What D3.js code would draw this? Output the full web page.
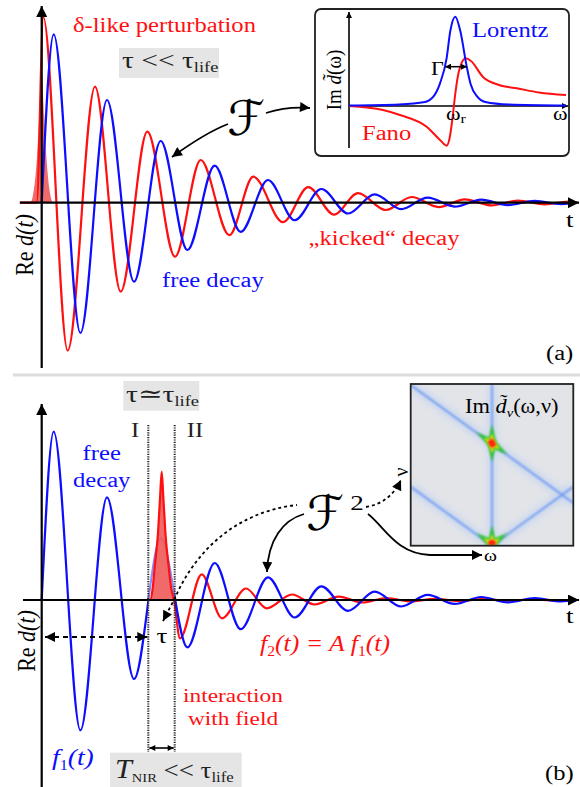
<!DOCTYPE html>
<html><head><meta charset="utf-8">
<script src="https://cdn.jsdelivr.net/npm/d3@7"></script>
<style>body{margin:0;background:#fff}svg{display:block}
text{font-family:"Liberation Serif","Tinos","Times New Roman","Nimbus Roman","DejaVu Serif",serif}</style>
</head><body>
<script>
// ---------------- DATA ----------------
// Panel (a): free decay (blue) extrema, t measured from the y-axis, value above the t-axis
const freeT = [0, 12, 38.7, 65.3, 92.3, 119, 145.7, 173, 199, 226.3, 253, 279.7, 306.3, 333, 359.5, 386, 413, 439.5, 466, 493, 519.5, 535];
const freeV = [0, 168.4, -130.3, 102.7, -79, 61.7, -47.3, 37, -29.2, 22.7, -17.5, 13.7, -10.8, 8.4, -6.5, 5.1, -3.9, 3.0, -2.4, 1.8, -1.4, 0];
// Panel (a): "kicked" decay (red)
const kickT = [-22, -5, 1.6, 26, 53.3, 79, 105.6, 133.3, 159, 187.6, 211.6, 241.3, 266.6, 292.3, 316.3, 344, 370, 397, 423, 450, 476, 503, 529, 535];
const kickV = [0, 0, 185.7, -148, 116, -89, 71, -54, 42.7, -32.5, 26, -19.5, 15.5, -12, 9.5, -7.3, 5.7, -4.4, 3.4, -2.7, 2.1, -1.6, 1.2, 0];
// Panel (a): delta-like pulse
const pulseAT = [-11, -9, -4.7, -2.5, 0, 2.5, 4.7, 9, 11];
const pulseAV = [0, 6, 46, 86, 128, 86, 46, 6, 0];
// Inset (a): Lorentz and Fano line shapes (omega measured from the inset axis)
const lorW = [0, 50, 76, 84.3, 91, 97.6, 101.3, 106.3, 111.3, 117.6, 121.6, 128.3, 136.3, 160, 217];
const lorV = [0.5, 1.5, 4, 9.3, 22.7, 47.7, 75, 89.3, 75, 40, 22, 9.3, 4, 1.5, 0.5];
const fanoW = [0, 34, 51, 78, 91, 97.7, 101, 104, 106, 110, 116.7, 122, 134, 150, 168, 190, 217];
const fanoV = [0, -4, -9, -21, -34, -39.7, -30, -8, 10, 35, 47.7, 45, 29, 21, 17.7, 13.5, 11];
// Panel (b): interaction window (between the two dotted lines)
const windowT = [106.6, 133];
// Panel (b): field pulse and the decay after it (red)
const pulseBT = [106.6, 108.3, 111, 113, 116.3, 118.5, 120, 121.5, 123.7, 127, 129.5, 132.3];
const pulseBV = [0, 0, 12, 33, 67, 105, 128.3, 105, 67, 33, 12, 0];
const tailBT = [138.3, 160, 180.3, 204.3, 225, 250.3, 273, 297, 321, 345, 369, 393, 417, 441, 465, 489, 513, 535];
const tailBV = [-38.3, 25.7, -18.3, 11.5, -8.3, 5.5, -4.5, 3.3, -2.5, 2, -1.5, 1.2, -1, 0.8, -0.6, 0.5, -0.3, 0];
// Inset (b): 2D spectrum ridges (omega, nu in 0..1) and peaks
const ridges = [[[0, 0.994], [1, 0.264]], [[0.5, 0], [0.5, 1]], [[0, 0.365], [0.5, 0]], [[0.5, 0], [1, 0.365]]];
const peakW = [0.5, 0.5];
const peakNu = [0.633, 0.01];

// ---------------- SETUP ----------------
const SERIF = '"Liberation Serif","Tinos","Times New Roman","Nimbus Roman","DejaVu Serif",serif';
const SX = 1.23;
const BLUE = '#0d0dff', RED = '#ff1010';
const svg = d3.select('body').append('svg').attr('width', 580).attr('height', 787);
const defs = svg.append('defs');
function marker(id, w, h, color = '#000') {
  defs.append('marker').attr('id', id).attr('viewBox', '0 0 10 10').attr('refX', 10).attr('refY', 5)
    .attr('markerWidth', w).attr('markerHeight', h).attr('markerUnits', 'userSpaceOnUse')
    .attr('orient', 'auto-start-reverse')
    .append('path').attr('d', 'M0,0L10,5L0,10Z').attr('fill', color);
}
marker('axArrow', 13, 11);
marker('arr', 12, 10);
marker('arrS', 7, 6);
const blur = (id, s) => defs.append('filter').attr('id', id).attr('filterUnits', 'userSpaceOnUse')
  .attr('x', 0).attr('y', 0).attr('width', 580).attr('height', 787)
  .append('feGaussianBlur').attr('stdDeviation', s);
blur('b1', 0.8); blur('b3', 3.5); blur('b2', 1.4);

function label(x, y, parts, o = {}) {
  const g = svg.append('g').attr('transform', `translate(${x},${y}) scale(${o.sx ?? SX},1)` + (o.rot ? ` rotate(${o.rot})` : ''));
  const t = g.append('text').style('font-family', o.font || SERIF).attr('font-size', o.size || 20)
    .attr('fill', o.color || '#000').attr('text-anchor', o.anchor || 'start');
  if (typeof parts === 'string') parts = [{ t: parts }];
  parts.forEach(p => {
    const s = t.append('tspan').text(p.t);
    if (p.i) s.attr('font-style', 'italic');
    if (p.size) s.attr('font-size', p.size);
    if (p.dy) s.attr('dy', p.dy);
    if (p.dx) s.attr('dx', p.dx);
    if (p.fill) s.attr('fill', p.fill);
    if (p.font) s.style('font-family', p.font);
  });
  return t;
}
function pathArrow(d, o = {}) {
  const p = svg.append('path').attr('d', d).attr('fill', 'none').attr('stroke', '#000')
    .attr('stroke-width', o.w || 1.8);
  if (o.dash) p.attr('stroke-dasharray', o.dash);
  if (o.end) p.attr('marker-end', `url(#${o.end})`);
  if (o.start) p.attr('marker-start', `url(#${o.start})`);
  return p;
}
const SCRIPT = '"DejaVu Serif","DejaVu Sans",serif';

// ---------------- PANEL (a) ----------------
const xA = d3.scaleLinear().domain([0, 535]).range([41.7, 576.7]);
const yA = d3.scaleLinear().domain([-160, 200]).range([362.7, 2.7]);
const lineA = d3.line().x(d => xA(d[0])).y(d => yA(d[1])).curve(d3.curveMonotoneX);
const areaA = d3.area().x(d => xA(d[0])).y0(yA(0)).y1(d => yA(d[1])).curve(d3.curveMonotoneX);

svg.append('path').datum(d3.zip(pulseAT, pulseAV)).attr('d', areaA).attr('fill', '#ee5a5a').attr('opacity', 0.9);
svg.append('path').datum(d3.zip(kickT, kickV)).attr('d', lineA).attr('fill', 'none').attr('stroke', RED).attr('stroke-width', 2.2);
svg.append('path').datum(d3.zip(freeT, freeV)).attr('d', lineA).attr('fill', 'none').attr('stroke', BLUE).attr('stroke-width', 2.2);

// axes (a)
svg.append('line').attr('x1', xA(0)).attr('x2', xA(0)).attr('y1', 368).attr('y2', 6)
  .attr('stroke', '#000').attr('stroke-width', 2.2).attr('marker-end', 'url(#axArrow)');
svg.append('line').attr('x1', 20).attr('x2', 579).attr('y1', yA(0)).attr('y2', yA(0))
  .attr('stroke', '#000').attr('stroke-width', 2.2).attr('marker-end', 'url(#axArrow)');

label(73, 32, 'δ-like perturbation', { color: RED });
svg.append('rect').attr('x', 119).attr('y', 48).attr('width', 100).attr('height', 30).attr('fill', '#e5e5e5');
label(122, 68, [{ t: 'τ << τ' }, { t: 'life', size: 15, dy: 4 }], { size: 24, color: '#222' });
label(246, 135, 'ℱ', { size: 48, anchor: 'middle', font: SCRIPT, sx: 1 });
pathArrow('M228,124 Q205,133 172,157', { end: 'arr' });
pathArrow('M266,113 Q288,106 310,108', { end: 'arr' });
label(308.6, 245, '„kicked“ decay', { color: RED });
label(162, 287, 'free decay', { color: BLUE });
label(566, 227, 't', { size: 22 });
label(33, 245, [{ t: 'Re ' }, { t: 'd(t)', i: true }], { size: 22, rot: -90, anchor: 'middle', sx: 1.15 });
label(546, 360, '(a)');

// inset (a)
svg.append('rect').attr('x', 315).attr('y', 9).attr('width', 254).attr('height', 147).attr('rx', 6)
  .attr('fill', '#fff').attr('stroke', '#222').attr('stroke-width', 1.8);
const xI = d3.scaleLinear().domain([0, 217]).range([349, 566]);
const yI = d3.scaleLinear().domain([-45, 100]).range([151, 6]);
const lineI = d3.line().x(d => xI(d[0])).y(d => yI(d[1])).curve(d3.curveMonotoneX);
svg.append('line').attr('x1', xI(0)).attr('x2', xI(0)).attr('y1', 148).attr('y2', 12)
  .attr('stroke', '#000').attr('stroke-width', 1.6).attr('marker-end', 'url(#arrS)');
svg.append('line').attr('x1', xI(0)).attr('x2', 568).attr('y1', yI(0)).attr('y2', yI(0))
  .attr('stroke', '#000').attr('stroke-width', 1.6).attr('marker-end', 'url(#arrS)');
svg.append('path').datum(d3.zip(fanoW, fanoV)).attr('d', lineI).attr('fill', 'none').attr('stroke', RED).attr('stroke-width', 2);
svg.append('path').datum(d3.zip(lorW, lorV)).attr('d', lineI).attr('fill', 'none').attr('stroke', BLUE).attr('stroke-width', 2);
label(472, 37, 'Lorentz', { color: BLUE });
label(362, 140, 'Fano', { color: RED });
label(431, 75, 'Γ', { size: 18 });
svg.append('line').attr('x1', 445).attr('x2', 467).attr('y1', 66.7).attr('y2', 66.7).attr('stroke', '#000').attr('stroke-width', 1.5)
  .attr('marker-end', 'url(#arrS)').attr('marker-start', 'url(#arrS)');
label(446, 120, [{ t: 'ω' }, { t: 'r', size: 13, dy: 3 }], { size: 18 });
label(553, 120, 'ω', { size: 18 });
label(341, 80, [{ t: 'Im ' }, { t: 'd\u0303', i: true }, { t: '(ω)' }], { size: 19, rot: -90, anchor: 'middle', sx: 1.1 });

// separator
svg.append('line').attr('x1', 13).attr('x2', 580).attr('y1', 375).attr('y2', 375).attr('stroke', '#dcdcdc').attr('stroke-width', 3);

// ---------------- PANEL (b) ----------------
const xB = d3.scaleLinear().domain([0, 535]).range([41.7, 576.7]);
const yB = d3.scaleLinear().domain([-190, 200]).range([790, 400]);
const lineB = d3.line().x(d => xB(d[0])).y(d => yB(d[1])).curve(d3.curveMonotoneX);
const areaB = d3.area().x(d => xB(d[0])).y0(yB(0)).y1(d => yB(d[1])).curve(d3.curveMonotoneX);

const clips = [['clipI', 0, xB(windowT[0])], ['clipW', xB(windowT[0]), xB(windowT[1])], ['clipII', xB(windowT[1]), 580]];
clips.forEach(([id, a, b]) => defs.append('clipPath').attr('id', id).append('rect').attr('x', a).attr('y', 380).attr('width', b - a).attr('height', 420));

const freeB = d3.zip(freeT, freeV);
svg.append('path').datum(freeB).attr('d', lineB).attr('fill', 'none').attr('stroke', '#8a8aff').attr('stroke-width', 2).attr('clip-path', 'url(#clipW)');
svg.append('path').datum(d3.zip(pulseBT, pulseBV)).attr('d', areaB).attr('fill', '#ee5a5a').attr('opacity', 0.9);
svg.append('path').datum(d3.zip(pulseBT.concat(tailBT), pulseBV.concat(tailBV))).attr('d', lineB)
  .attr('fill', 'none').attr('stroke', RED).attr('stroke-width', 2.2);
svg.append('path').datum(freeB).attr('d', lineB).attr('fill', 'none').attr('stroke', BLUE).attr('stroke-width', 2.2).attr('clip-path', 'url(#clipI)');
svg.append('path').datum(freeB).attr('d', lineB).attr('fill', 'none').attr('stroke', BLUE).attr('stroke-width', 2.2).attr('clip-path', 'url(#clipII)');

// axes (b)
svg.append('line').attr('x1', xB(0)).attr('x2', xB(0)).attr('y1', 787).attr('y2', 404)
  .attr('stroke', '#000').attr('stroke-width', 2.2).attr('marker-end', 'url(#axArrow)');
svg.append('line').attr('x1', 23).attr('x2', 579).attr('y1', yB(0)).attr('y2', yB(0))
  .attr('stroke', '#000').attr('stroke-width', 2.2).attr('marker-end', 'url(#axArrow)');

// window dotted lines
windowT.forEach(t => {
  svg.append('line').attr('x1', xB(t)).attr('x2', xB(t)).attr('y1', 425).attr('y2', 752)
    .attr('stroke', '#222').attr('stroke-width', 2).attr('stroke-dasharray', '1.2,1.2');
});
svg.append('line').attr('x1', xB(windowT[0]) + 1).attr('x2', xB(windowT[1]) - 1).attr('y1', 748).attr('y2', 748)
  .attr('stroke', '#000').attr('stroke-width', 1.6).attr('marker-start', 'url(#arrS)').attr('marker-end', 'url(#arrS)');
// tau dashed double arrow
svg.append('line').attr('x1', 45).attr('x2', xB(windowT[0]) - 1).attr('y1', 637).attr('y2', 637)
  .attr('stroke', '#000').attr('stroke-width', 1.8).attr('stroke-dasharray', '5,4')
  .attr('marker-start', 'url(#arr)').attr('marker-end', 'url(#arr)');

svg.append('rect').attr('x', 123.3).attr('y', 381).attr('width', 76).attr('height', 29.7).attr('fill', '#e5e5e5');
label(126, 402, [{ t: 'τ≃τ' }, { t: 'life', size: 15, dy: 4 }], { size: 24, color: '#222' });
label(135, 437, 'I', { anchor: 'middle', color: '#222' });
label(195, 437, 'II', { anchor: 'middle', color: '#222' });
label(101.7, 460, 'free', { anchor: 'middle', color: BLUE });
label(101.7, 487, 'decay', { anchor: 'middle', color: BLUE });
label(162, 643, 'τ', { anchor: 'middle', size: 22 });
label(52, 765, [{ t: 'f', i: true }, { t: '1', size: 14, dy: 5 }, { t: '(t)', i: true, dy: -5 }], { size: 24, color: BLUE, sx: 1.15 });
label(233, 702, 'interaction', { anchor: 'middle', color: RED, size: 19 });
label(233, 725, 'with field', { anchor: 'middle', color: RED, size: 19 });
svg.append('rect').attr('x', 110).attr('y', 752.7).attr('width', 131.7).attr('height', 35).attr('fill', '#e5e5e5');
label(115, 778, [{ t: 'T', i: true, size: 27 }, { t: 'NIR', size: 13, dy: 4 }, { t: ' << τ', dy: -4 }, { t: 'life', size: 15, dy: 4 }], { size: 24, color: '#222', sx: 1.12 });
label(260, 651, [{ t: 'f', i: true }, { t: '2', size: 14, dy: 5 }, { t: '(t) = A f', i: true, dy: -5 }, { t: '1', size: 14, dy: 5 }, { t: '(t)', i: true, dy: -5 }], { size: 23, color: RED, sx: 1.12 });
label(566, 623, 't', { size: 22 });
label(545, 780, '(b)');
label(35, 641, [{ t: 'Re ' }, { t: 'd(t)', i: true }], { size: 22, rot: -90, anchor: 'middle', sx: 1.15 });

// F^2 and arrows
label(325, 530, 'ℱ', { size: 48, anchor: 'middle', font: SCRIPT, sx: 1 });
label(357, 510, '2', { size: 22, anchor: 'middle' });
pathArrow('M163,621 L175,598 C195,552 235,512 297,505', { dash: '3,3', start: 'arr' });
pathArrow('M366,507 Q390,503 401,480', { dash: '3,3', end: 'arr' });
pathArrow('M304,514 C283,520 268,540 267,572', { end: 'arr' });
pathArrow('M368,514 C384,526 396,554 430,555 L482,555', { end: 'arr' });
svg.append('text').attr('transform', 'translate(408,472) rotate(-90)').attr('text-anchor', 'middle')
  .attr('font-size', 20).style('font-family', SERIF).text('ν');
label(484, 561, 'ω', { size: 16 });

// inset (b): 2D spectrum
const bx0 = 410.7, bx1 = 573.3, by0 = 384, by1 = 545.7;
const xW = d3.scaleLinear().domain([0, 1]).range([bx0, bx1]);
const yN = d3.scaleLinear().domain([0, 1]).range([by1, by0]);
defs.append('clipPath').attr('id', 'clipMap').append('rect').attr('x', bx0).attr('y', by0).attr('width', bx1 - bx0).attr('height', by1 - by0);
const gm = svg.append('g').attr('clip-path', 'url(#clipMap)');
gm.append('rect').attr('x', bx0).attr('y', by0).attr('width', bx1 - bx0).attr('height', by1 - by0).attr('fill', '#e2e4e8');
const rl = d3.line().x(d => xW(d[0])).y(d => yN(d[1]));
ridges.forEach(r => gm.append('path').attr('d', rl(r)).attr('stroke', '#c8d6f0').attr('stroke-width', 8).attr('fill', 'none').attr('filter', 'url(#b3)'));
ridges.forEach(r => gm.append('path').attr('d', rl(r)).attr('stroke', '#6a98f2').attr('stroke-width', 1.8).attr('fill', 'none').attr('filter', 'url(#b1)'));
// peaks: tapered arms along the ridges passing through each peak
const peakArms = [
  [[0, 0.994], [1, 0.264], [0.5, 1], [0.5, 0]],
  [[0, 0.365], [1, 0.365], [0.5, 1]]
];
peakW.forEach((w, i) => {
  const px = xW(w), py = yN(peakNu[i]);
  const layers = [[19, 9, '#2bc42b'], [10, 7, '#e6e81e'], [5.5, 6, '#ff1a10']];
  layers.forEach(([L, bw, c]) => {
    peakArms[i].forEach(tp => {
      const dx = xW(tp[0]) - px, dy = yN(tp[1]) - py, n = Math.hypot(dx, dy);
      const ux = dx / n, uy = dy / n;
      const pts = [[px - uy * bw / 2, py + ux * bw / 2], [px + ux * L, py + uy * L], [px + uy * bw / 2, py - ux * bw / 2]];
      gm.append('path').attr('d', d3.line()(pts) + 'Z').attr('fill', c).attr('filter', 'url(#b1)');
    });
  });
});
svg.append('rect').attr('x', bx0).attr('y', by0).attr('width', bx1 - bx0).attr('height', by1 - by0)
  .attr('fill', 'none').attr('stroke', '#222').attr('stroke-width', 1.8);
label(465, 413, [{ t: 'Im ' }, { t: 'd\u0303', i: true }, { t: 'ν', i: true, size: 13, dy: 4 }, { t: '(ω,ν)', dy: -4 }], { size: 20, sx: 1.12 });
</script>
</body></html>
